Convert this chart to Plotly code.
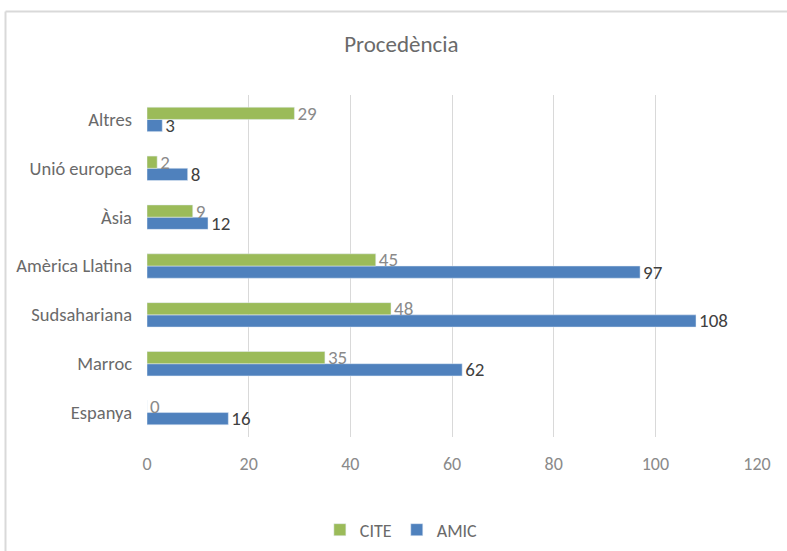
import plotly.graph_objects as go

categories = ["Espanya", "Marroc", "Sudsahariana", "Amèrica Llatina", "Àsia", "Unió europea", "Altres"]
cite = [0, 35, 48, 45, 9, 2, 29]
amic = [16, 62, 108, 97, 12, 8, 3]
x_ticks = [0, 20, 40, 60, 80, 100, 120]

W, H = 787, 551
L, R, T, B = 147, 30, 95, 114
FONT = "Carlito, Calibri, Lato, sans-serif"

fig = go.Figure()
fig.add_trace(go.Bar(
    y=categories, x=amic, name="AMIC", orientation="h",
    marker=dict(color="#4F81BD"),
    text=[str(v) for v in amic], textposition="outside",
    textfont=dict(family=FONT, size=19, color="#404040"),
    cliponaxis=False, hoverinfo="skip",
))
fig.add_trace(go.Bar(
    y=categories, x=cite, name="CITE", orientation="h",
    marker=dict(color="#9BBB59"),
    text=[str(v) for v in cite], textposition="outside",
    textfont=dict(family=FONT, size=19, color="#8a8a8a"),
    cliponaxis=False, hoverinfo="skip",
))

pw = W - L - R
ph = H - T - B
def px2x(px):
    return (px - L) / pw
def py2y(py):
    return (H - B - py) / ph

fig.add_shape(type="line", xref="paper", yref="paper",
              x0=px2x(5.5), x1=px2x(5.5), y0=py2y(551), y1=py2y(11.5),
              line=dict(color="#d9d9d9", width=2))
fig.add_shape(type="line", xref="paper", yref="paper",
              x0=px2x(5.5), x1=px2x(787), y0=py2y(11.5), y1=py2y(11.5),
              line=dict(color="#d9d9d9", width=2))

fig.update_layout(
    width=W, height=H,
    margin=dict(l=L, r=R, t=T, b=B, autoexpand=False),
    paper_bgcolor="white", plot_bgcolor="white",
    barmode="group", bargap=0.5, bargroupgap=0,
    uniformtext=dict(minsize=19, mode="show"),
    title=dict(text="Procedència", x=0.51, xref="container", xanchor="center",
               y=1 - 44 / H, yref="container", yanchor="middle",
               font=dict(family=FONT, size=23, color="#6a6a6a")),
    xaxis=dict(range=[0, 120], tickvals=x_ticks, showgrid=True, gridcolor="#d9d9d9",
               gridwidth=1, zeroline=False, showline=False, ticks="", automargin=False,
               tickfont=dict(family=FONT, size=18, color="#8a8a8a"), ticklabelstandoff=14),
    yaxis=dict(categoryorder="array", categoryarray=categories, showgrid=False,
               showline=False, zeroline=False, ticks="", automargin=False,
               tickfont=dict(family=FONT, size=18.5, color="#6a6a6a"), ticklabelstandoff=14),
    legend=dict(orientation="h", xref="container", x=0.51, xanchor="center",
                yref="container", y=1 - 530 / H, yanchor="middle",
                traceorder="reversed", font=dict(family=FONT, size=18, color="#6a6a6a"),
                itemwidth=30, tracegroupgap=0),
    showlegend=True,
)

fig.write_html("out.html", config={"displayModeBar": False},
               post_script="document.body.style.margin='0';")
